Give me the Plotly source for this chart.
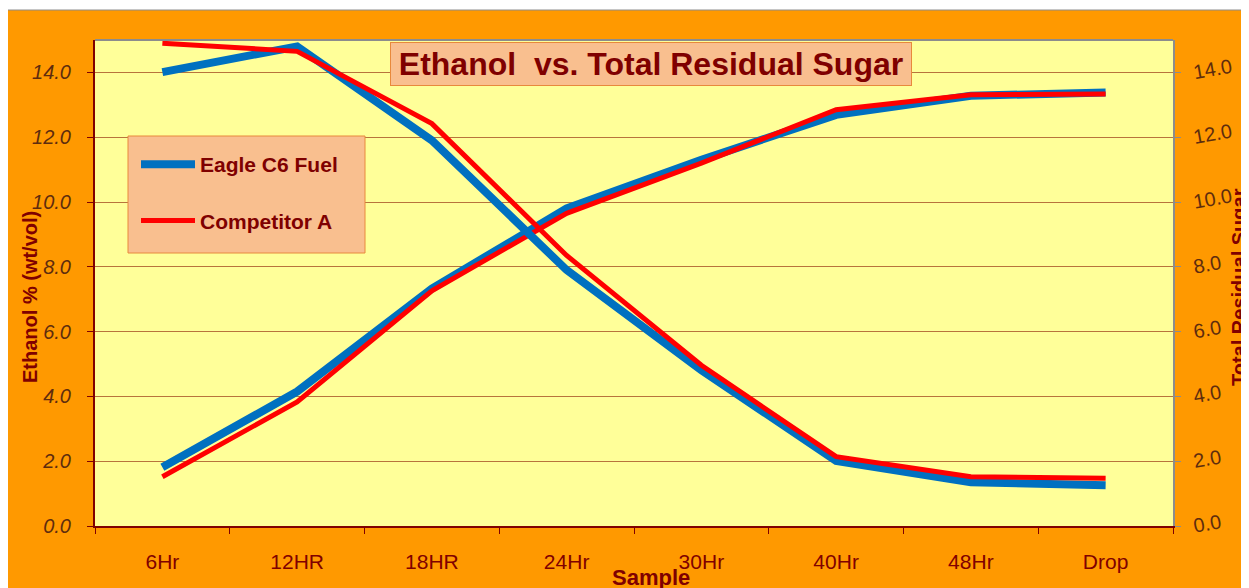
import plotly.graph_objects as go

# ---------------- data ----------------
categories = ["6Hr", "12HR", "18HR", "24Hr", "30Hr", "40Hr", "48Hr", "Drop"]
eagle_ethanol = [1.81, 4.15, 7.33, 9.80, 11.30, 12.69, 13.28, 13.38]
comp_ethanol = [1.52, 3.83, 7.26, 9.65, 11.20, 12.85, 13.31, 13.33]
eagle_sugar = [14.01, 14.80, 11.90, 7.90, 4.81, 2.01, 1.35, 1.26]
comp_sugar = [14.90, 14.65, 12.42, 8.35, 4.96, 2.14, 1.52, 1.47]
series_names = ["Eagle C6 Fuel", "Competitor A"]
y_ticks = [0, 2, 4, 6, 8, 10, 12, 14]

# ---------------- layout helpers ----------------
# The page body adds an 8px offset; targets below are given in page pixels.
W, H = 1249, 588
OFF = 8
PL, PR, PT, PB = 95, 1173, 40, 526          # plot area in page pixels
L, T = PL - OFF, PT - OFF
R, B = W - (PR - OFF), H - (PB - OFF)
PW, PH = PR - PL, PB - PT


def px(x):
    return (x - PL) / PW


def py(y):
    return (PB - y) / PH


FONT = "Liberation Sans, Arial, sans-serif"
DARKRED = "#7F0000"
BROWN = "#5E2C0E"
BLUE = "#0070C0"
RED = "#FF0000"
PEACH = "#F9BF8F"
PEACH_EDGE = "#E8893C"
ORANGE = "#FF9900"

fig = go.Figure()
fig.add_trace(go.Scatter(x=categories, y=eagle_ethanol, name="<b>" + series_names[0] + "</b>",
                         mode="lines", line=dict(color=BLUE, width=8),
                         legendgroup="eagle", yaxis="y"))
fig.add_trace(go.Scatter(x=categories, y=comp_ethanol, name="<b>" + series_names[1] + "</b>",
                         mode="lines", line=dict(color=RED, width=5),
                         legendgroup="comp", yaxis="y"))
fig.add_trace(go.Scatter(x=categories, y=eagle_sugar, name="<b>" + series_names[0] + "</b>",
                         mode="lines", line=dict(color=BLUE, width=8),
                         legendgroup="eagle", showlegend=False, yaxis="y2"))
fig.add_trace(go.Scatter(x=categories, y=comp_sugar, name="<b>" + series_names[1] + "</b>",
                         mode="lines", line=dict(color=RED, width=5),
                         legendgroup="comp", showlegend=False, yaxis="y2"))

shapes = [
    # white strip above the orange slide frame
    dict(type="rect", xref="paper", yref="paper", x0=px(0), x1=px(W + 20), y0=py(10), y1=py(-5),
         fillcolor="white", line=dict(width=0), layer="below"),
    # frame top edge
    dict(type="line", xref="paper", yref="paper", x0=px(4), x1=px(W + 20), y0=py(10), y1=py(10),
         line=dict(color="#8C8C8C", width=1)),
    # plot area top border
    dict(type="line", xref="paper", yref="paper", x0=0, x1=1, y0=1, y1=1,
         line=dict(color="#8C8C8C", width=2)),
    # legend box
    dict(type="rect", xref="paper", yref="paper", x0=px(128), x1=px(365), y0=py(253), y1=py(136),
         fillcolor=PEACH, line=dict(color=PEACH_EDGE, width=1), layer="above"),
]

annotations = [
    dict(text="<b>Ethanol\u00a0 vs. Total Residual Sugar</b>", xref="paper", yref="paper",
         x=px(651), y=py(63.5), xanchor="center", yanchor="middle", showarrow=False,
         width=520, height=42, bgcolor=PEACH, bordercolor=PEACH_EDGE, borderwidth=1, borderpad=0,
         font=dict(family=FONT, size=32, color=DARKRED)),
    dict(text="<b>Ethanol % (wt/vol)</b>", xref="paper", yref="paper", textangle=-90,
         x=px(30), y=py(297), xanchor="center", yanchor="middle", showarrow=False,
         font=dict(family=FONT, size=20, color=DARKRED)),
    dict(text="<b>Total Residual Sugar</b>", xref="paper", yref="paper", textangle=-90,
         x=px(1239), y=py(287), xanchor="center", yanchor="middle", showarrow=False,
         font=dict(family=FONT, size=20, color=DARKRED)),
    dict(text="<b>Sample</b>", xref="paper", yref="paper",
         x=px(651), y=py(577), xanchor="center", yanchor="middle", showarrow=False,
         font=dict(family=FONT, size=22, color=DARKRED)),
]

fig.update_layout(
    width=W, height=H,
    margin=dict(l=L, r=R, t=T, b=B, autoexpand=False),
    paper_bgcolor=ORANGE,
    plot_bgcolor="#FFFF99",
    font=dict(family=FONT, color=DARKRED),
    shapes=shapes,
    annotations=annotations,
    showlegend=True,
    legend=dict(x=px(136), y=py(144), xanchor="left", yanchor="top",
                bgcolor="rgba(0,0,0,0)", borderwidth=0,
                font=dict(family=FONT, size=21, color=DARKRED),
                tracegroupgap=26, itemwidth=54),
    xaxis=dict(type="category", range=[-0.5, len(categories) - 0.5],
               showline=True, linecolor="#800000", linewidth=2,
               ticks="outside", tickson="boundaries", ticklen=6, tickcolor="#800000",
               tickfont=dict(family=FONT, size=21, color="#800000"),
               ticklabelstandoff=16,
               showgrid=False, zeroline=False, fixedrange=True),
    yaxis=dict(range=[0, 15], tickvals=y_ticks, tickformat=".1f",
               showgrid=True, gridcolor="#B8743C", gridwidth=1,
               showline=True, linecolor="#800000", linewidth=2,
               ticks="outside", ticklen=6, tickcolor="#800000",
               tickfont=dict(family=FONT, size=20, color=BROWN, style="italic"),
               ticklabelstandoff=12,
               zeroline=False),
    yaxis2=dict(range=[0, 15], tickvals=y_ticks, tickformat=".1f", overlaying="y", side="right",
                showgrid=False, showline=True, linecolor="#8C8C8C", linewidth=2,
                ticks="outside", ticklen=6, tickcolor="#8C8C8C",
                tickangle=-10,
                tickfont=dict(family=FONT, size=20, color=BROWN),
                ticklabelstandoff=8,
                zeroline=False),
)

fig.write_html("out.html")
